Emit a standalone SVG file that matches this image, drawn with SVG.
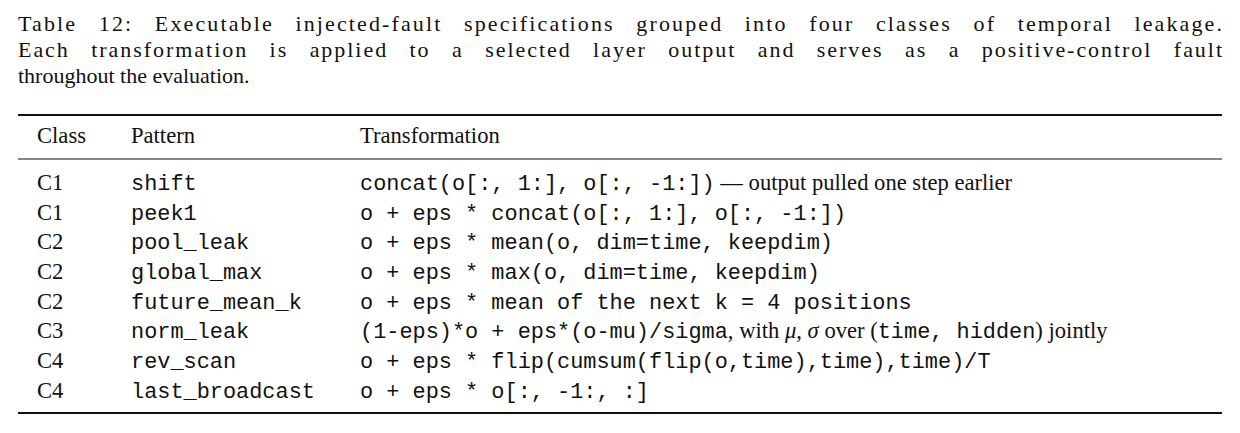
<svg xmlns="http://www.w3.org/2000/svg" width="1240" height="433" viewBox="0 0 1240 433">
<style>
.s{font-family:"Liberation Serif",serif;font-size:22.6px;fill:#111}
.c{font-family:"Liberation Serif",serif;font-size:22px;fill:#111}
.w{word-spacing:14px}
.m{font-family:"Liberation Mono",monospace;font-size:21.9px;fill:#111}
.r{stroke:#111}
</style>
<rect width="1240" height="433" fill="#fff"/>
<g id="caption">
<text class="c w" x="18" y="31" textLength="1204" lengthAdjust="spacing">Table 12: Executable injected-fault specifications grouped into four classes of temporal leakage.</text>
<text class="c w" x="18" y="57" textLength="1204" lengthAdjust="spacing">Each transformation is applied to a selected layer output and serves as a positive-control fault</text>
<text class="c" x="18" y="83">throughout the evaluation.</text>
</g>
<g id="rules">
<line class="r" x1="18" x2="1222" y1="115" y2="115" stroke-width="2"/>
<line class="r" x1="18" x2="1222" y1="159" y2="159" stroke-width="1.2"/>
<line class="r" x1="18" x2="1222" y1="413" y2="413" stroke-width="2"/>
</g>
<g id="header">
<text class="s" x="37" y="143">Class</text>
<text class="s" x="131" y="143">Pattern</text>
<text class="s" x="360" y="143">Transformation</text>
</g>
<g id="rows">
<text class="s" x="37" y="190">C1</text><text class="m" x="131" y="190">shift</text>
<text x="360" y="190"><tspan class="m">concat(o[:, 1:], o[:, -1:])</tspan><tspan class="s"> — output pulled one step earlier</tspan></text>
<text class="s" x="37" y="220">C1</text><text class="m" x="131" y="220">peek1</text>
<text class="m" x="360" y="220">o + eps * concat(o[:, 1:], o[:, -1:])</text>
<text class="s" x="37" y="249">C2</text><text class="m" x="131" y="249">pool_leak</text>
<text class="m" x="360" y="249">o + eps * mean(o, dim=time, keepdim)</text>
<text class="s" x="37" y="279">C2</text><text class="m" x="131" y="279">global_max</text>
<text class="m" x="360" y="279">o + eps * max(o, dim=time, keepdim)</text>
<text class="s" x="37" y="309">C2</text><text class="m" x="131" y="309">future_mean_k</text>
<text class="m" x="360" y="309">o + eps * mean of the next k = 4 positions</text>
<text class="s" x="37" y="338">C3</text><text class="m" x="131" y="338">norm_leak</text>
<text x="360" y="338"><tspan class="m">(1-eps)*o + eps*(o-mu)/sigma</tspan><tspan class="s">, with </tspan><tspan class="s" font-style="italic">μ</tspan><tspan class="s">, </tspan><tspan class="s" font-style="italic">σ</tspan><tspan class="s"> over (</tspan><tspan class="m">time, hidden</tspan><tspan class="s">) jointly</tspan></text>
<text class="s" x="37" y="368">C4</text><text class="m" x="131" y="368">rev_scan</text>
<text class="m" x="360" y="368">o + eps * flip(cumsum(flip(o,time),time),time)/T</text>
<text class="s" x="37" y="398">C4</text><text class="m" x="131" y="398">last_broadcast</text>
<text class="m" x="360" y="398">o + eps * o[:, -1:, :]</text>
</g>
</svg>
